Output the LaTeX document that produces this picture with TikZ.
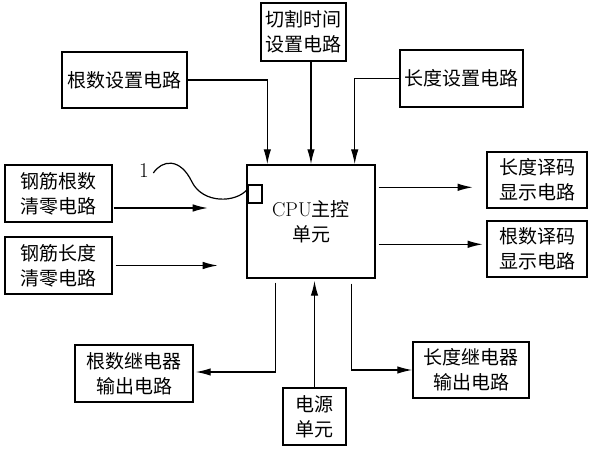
\documentclass[tikz,border=0pt]{standalone}
\usepackage{fontspec}
\newfontfamily\cjk{Noto Sans CJK SC}
\usetikzlibrary{arrows.meta,calc}

\begin{document}
\begin{tikzpicture}[x=1pt,y=-1pt,
    blk/.style={draw,line width=1.4pt,inner sep=0pt,align=center,
      font=\cjk\fontsize{19}{25}\selectfont},
    sig/.style={line width=1.3pt,-{Latex[length=15pt,width=7.5pt]}}]
  \useasboundingbox (0,0) rectangle (594,450);

  % main unit
  \node[blk,minimum width=128pt,minimum height=113pt] (cpu) at (311,221.5)
    {{\rmfamily\fontsize{20}{25}\selectfont CPU}主控\\单元};
  \node[draw,line width=1.3pt,minimum width=14pt,minimum height=18pt,inner sep=0pt] (tag) at (255,194) {};

  % inputs on top
  \node[blk,minimum width=125pt,minimum height=56pt] (gsz)  at (124.5,80)  {根数设置电路};
  \node[blk,minimum width=85pt,minimum height=58pt]  (qgsj) at (303.5,32)  {切割时间\\设置电路};
  \node[blk,minimum width=123pt,minimum height=57pt] (cdsz) at (461.5,78.5) {长度设置电路};

  % left side
  \node[blk,minimum width=107pt,minimum height=57pt] (gsql) at (58.5,193.5) {钢筋根数\\清零电路};
  \node[blk,minimum width=107pt,minimum height=57pt] (cdql) at (58.5,265.5) {钢筋长度\\清零电路};

  % right side
  \node[blk,minimum width=100pt,minimum height=56pt] (cdxs) at (537,180)   {长度译码\\显示电路};
  \node[blk,minimum width=100pt,minimum height=56pt] (gsxs) at (537,249)   {根数译码\\显示电路};

  % bottom
  \node[blk,minimum width=118pt,minimum height=57pt] (gsjd) at (134,373.5)  {根数继电器\\输出电路};
  \node[blk,minimum width=63pt,minimum height=57pt]  (dy)   at (314.5,416.5) {电源\\单元};
  \node[blk,minimum width=116pt,minimum height=56pt] (cdjd) at (471,370)    {长度继电器\\输出电路};

  % label 1
  \node[font=\fontsize{21}{24}\selectfont] (lbl) at (144,171) {1};
  \draw[line width=1.2pt] ($(lbl.east)+(1,2)$) .. controls (162,160) and (180,157) .. (192,182)
    .. controls (203,204) and (236,203) .. ($(tag.north west)+(0,5)$);

  % connectors
  \draw[sig] (gsz.east) -| ([xshift=21pt]cpu.north west);
  \draw[sig] (qgsj.south -| cpu.north) -- (cpu.north);
  \draw[sig] (cdsz.west) -| ([xshift=-21pt]cpu.north east);

  \draw[sig] ($(gsql.east)+(1,14.5)$) -- ++(94,0);
  \draw[sig] ($(cdql.east)+(3,0)$) -- ++(102,0);

  \draw[sig] ($(cpu.north east)+(3,23)$) -- ++(94,0);
  \draw[sig] ($(cpu.north east)+(3,80)$) -- ++(104,0);

  \draw[sig] ($(cpu.south west)+(29,4)$) |- ($(gsjd.east)+(2,-1.5)$);
  \draw[sig] ($(cpu.south east)+(-24,5)$) |- (cdjd.west);
  \draw[sig] (dy.north) -- ($(dy.north |- cpu.south)+(0,2)$);
\end{tikzpicture}
\end{document}
